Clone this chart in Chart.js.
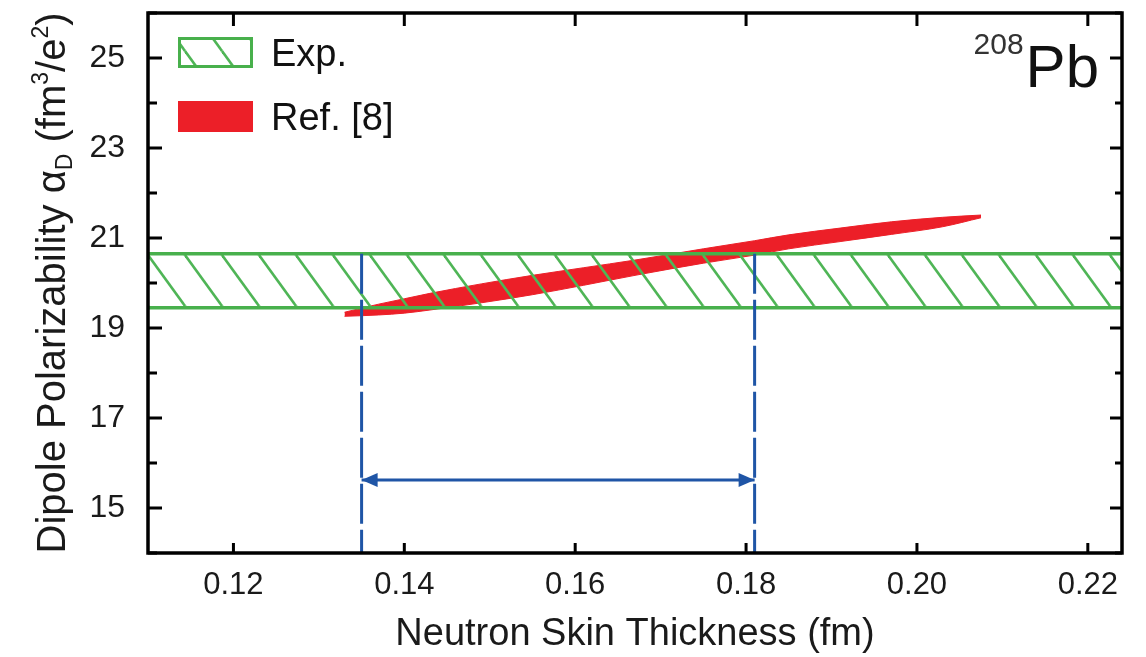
<!DOCTYPE html>
<html>
<head>
<meta charset="utf-8">
<script src="https://cdn.jsdelivr.net/npm/chart.js@4"></script>
<style>
  body { margin: 0; background: #fff; }
</style>
</head>
<body>
<canvas id="skinChart" width="1146" height="657"></canvas>
<script>
// axis ranges and ticks
var xRange = [0.11, 0.224];
var xTicks = [0.12, 0.14, 0.16, 0.18, 0.20, 0.22];
var yTicks = [14, 15, 16, 17, 18, 19, 20, 21, 22, 23, 24, 25, 26];

// measured dipole polarizability band (fm^3/e^2)
var expLow = 19.45;
var expHigh = 20.65;

// calculations from Ref. [8]: upper and lower edge of the band
var refSkin  = [0.133, 0.137, 0.140, 0.143, 0.149, 0.155, 0.161, 0.167, 0.175, 0.181, 0.185, 0.191, 0.197, 0.203, 0.2075];
var refUpper = [19.35, 19.53, 19.65, 19.77, 19.98, 20.17, 20.34, 20.51, 20.76, 20.94, 21.07, 21.22, 21.36, 21.46, 21.51];
var refLower = [19.26, 19.29, 19.33, 19.40, 19.56, 19.74, 19.95, 20.17, 20.44, 20.62, 20.76, 20.92, 21.08, 21.25, 21.45];

// neutron skin range extracted from the overlap
var skinRange = [0.135, 0.181];
var arrowAt = 15.62;

var green = '#48b04c';
var red = '#ec1f28';
var blue = '#1f55a6';
var font = "'Liberation Sans', Arial, sans-serif";

Chart.defaults.font.family = font;
Chart.defaults.color = '#1a1a1a';

// diagonal hatch used for the experimental band
function makeHatch() {
    var w = 37, h = 51;
    var c = document.createElement('canvas');
    c.width = w; c.height = h;
    var g = c.getContext('2d');
    g.strokeStyle = '#4fb556';
    g.lineWidth = 2.6;
    [-w, 0, w].forEach(function (dx) {
        [-h, 0, h].forEach(function (dy) {
            g.beginPath();
            g.moveTo(dx, dy);
            g.lineTo(dx + w, dy + h);
            g.stroke();
        });
    });
    return g.createPattern(c, 'repeat');
}
var hatch = makeHatch();

function pts(xs, ys) {
    return xs.map(function (x, i) { return { x: x, y: ys[i] }; });
}

function arrowHead(ctx, x, y, dir) {
    ctx.beginPath();
    ctx.moveTo(x, y);
    ctx.lineTo(x + dir * 16, y - 7);
    ctx.lineTo(x + dir * 16, y + 7);
    ctx.closePath();
    ctx.fill();
}

// no extra room for empty edge labels
function noEdgePadding(scale) {
    scale.paddingTop = 0;
    scale.paddingBottom = 0;
    scale.paddingLeft = 0;
    scale.paddingRight = 0;
}

// frame, inward ticks, legend, labels
var decorations = {
    id: 'decorations',
    afterDraw: function (chart) {
        var ctx = chart.ctx, a = chart.chartArea;
        var xs = chart.scales.x, ys = chart.scales.y;
        ctx.save();

        var arrow = chart.getDatasetMeta(0).data;
        ctx.fillStyle = blue;
        arrowHead(ctx, arrow[0].x, arrow[0].y, 1);
        arrowHead(ctx, arrow[1].x, arrow[1].y, -1);

        ctx.strokeStyle = '#000';
        ctx.lineWidth = 3.5;
        ctx.strokeRect(a.left, a.top, a.right - a.left, a.bottom - a.top);
        ctx.lineWidth = 3;
        ctx.beginPath();
        xs.ticks.forEach(function (t) {
            var px = xs.getPixelForValue(t.value);
            ctx.moveTo(px, a.bottom); ctx.lineTo(px, a.bottom - 10);
            ctx.moveTo(px, a.top); ctx.lineTo(px, a.top + 13);
        });
        ys.ticks.forEach(function (t) {
            var py = ys.getPixelForValue(t.value);
            var major = t.value % 2 === 1;
            ctx.moveTo(a.left, py); ctx.lineTo(a.left + (major ? 14 : 9), py);
            ctx.moveTo(a.right, py); ctx.lineTo(a.right - (major ? 12 : 7), py);
        });
        ctx.stroke();

        // legend
        var ds = chart.data.datasets;
        var bx = a.left + 30;
        var rows = [
            { top: a.top + 24, label: ds[3].label, fill: hatch, stroke: green },
            { top: a.top + 88, label: ds[5].label, fill: red, stroke: null }
        ];
        ctx.font = '38px ' + font;
        ctx.textBaseline = 'alphabetic';
        ctx.textAlign = 'left';
        rows.forEach(function (r) {
            ctx.fillStyle = r.fill;
            ctx.fillRect(bx, r.top, 75, 31);
            if (r.stroke) {
                ctx.strokeStyle = r.stroke;
                ctx.lineWidth = 3;
                ctx.strokeRect(bx + 1.5, r.top + 1.5, 72, 28);
            }
            ctx.fillStyle = '#111';
            ctx.fillText(r.label, bx + 93, r.top + 29);
        });

        // nucleus label
        ctx.textAlign = 'right';
        ctx.fillStyle = '#111';
        ctx.font = '60px ' + font;
        var pbX = a.right - 23, pbY = a.top + 74;
        ctx.fillText('Pb', pbX, pbY);
        var pbW = ctx.measureText('Pb').width;
        ctx.font = '30px ' + font;
        ctx.fillStyle = '#333';
        ctx.fillText('208', pbX - pbW - 2, pbY - 33);

        // y axis title with sub- and superscripts
        var parts = [
            { t: 'Dipole Polarizability \u03b1', s: 40, dy: 0 },
            { t: 'D', s: 23, dy: 7 },
            { t: ' (fm', s: 40, dy: 0 },
            { t: '3', s: 23, dy: -17 },
            { t: '/e', s: 40, dy: 0 },
            { t: '2', s: 23, dy: -17 },
            { t: ')', s: 40, dy: 0 }
        ];
        var total = 0;
        parts.forEach(function (p) {
            ctx.font = p.s + 'px ' + font;
            p.w = ctx.measureText(p.t).width;
            total += p.w;
        });
        ctx.translate(65, (a.top + a.bottom) / 2);
        ctx.rotate(-Math.PI / 2);
        ctx.textAlign = 'left';
        ctx.fillStyle = '#1a1a1a';
        var cx = -total / 2;
        parts.forEach(function (p) {
            ctx.font = p.s + 'px ' + font;
            ctx.fillText(p.t, cx, p.dy);
            cx += p.w;
        });
        ctx.restore();
    }
};

var ctx = document.getElementById('skinChart');

var skinChart = new Chart(ctx, {
    type: 'line',
    data: {
        datasets: [
            {
                label: 'range',
                data: [{ x: skinRange[0], y: arrowAt }, { x: skinRange[1], y: arrowAt }],
                borderColor: blue,
                borderWidth: 3,
                pointRadius: 0
            },
            {
                label: 'low',
                data: [{ x: skinRange[0], y: expHigh }, { x: skinRange[0], y: yTicks[0] }],
                borderColor: blue,
                borderWidth: 3,
                borderDash: [40, 6],
                pointRadius: 0
            },
            {
                label: 'high',
                data: [{ x: skinRange[1], y: expHigh }, { x: skinRange[1], y: yTicks[0] }],
                borderColor: blue,
                borderWidth: 3,
                borderDash: [40, 6],
                pointRadius: 0
            },
            {
                label: 'Exp.',
                data: [{ x: xRange[0], y: expHigh }, { x: xRange[1], y: expHigh }],
                borderColor: green,
                borderWidth: 3.5,
                pointRadius: 0
            },
            {
                label: 'Exp. low',
                data: [{ x: xRange[0], y: expLow }, { x: xRange[1], y: expLow }],
                borderColor: green,
                borderWidth: 3.5,
                pointRadius: 0,
                backgroundColor: hatch,
                fill: '-1'
            },
            {
                label: 'Ref. [8]',
                data: pts(refSkin, refUpper),
                borderColor: red,
                borderWidth: 1,
                pointRadius: 0,
                cubicInterpolationMode: 'monotone'
            },
            {
                label: 'Ref. [8] low',
                data: pts(refSkin, refLower),
                borderColor: red,
                borderWidth: 1,
                pointRadius: 0,
                cubicInterpolationMode: 'monotone',
                backgroundColor: red,
                fill: '-1'
            }
        ]
    },
    options: {
        responsive: false,
        animation: false,
        layout: { padding: { top: 13, right: 24, left: 0, bottom: 0 } },
        plugins: {
            legend: { display: false },
            tooltip: { enabled: false }
        },
        scales: {
            x: {
                type: 'linear',
                min: xRange[0],
                max: xRange[1],
                afterBuildTicks: function (scale) {
                    scale.ticks = xTicks.map(function (v) { return { value: v }; });
                },
                afterFit: function (scale) {
                    scale.height = 104;
                    noEdgePadding(scale);
                },
                grid: { display: false },
                border: { display: false },
                ticks: {
                    font: { size: 31 },
                    padding: 6,
                    callback: function (v) { return v.toFixed(2); }
                },
                title: {
                    display: true,
                    text: 'Neutron Skin Thickness (fm)',
                    font: { size: 38 },
                    padding: { top: 0, bottom: 0 }
                }
            },
            y: {
                min: yTicks[0],
                max: yTicks[yTicks.length - 1],
                afterBuildTicks: function (scale) {
                    scale.ticks = yTicks.map(function (v) { return { value: v }; });
                },
                afterFit: function (scale) {
                    scale.width = 148;
                    noEdgePadding(scale);
                },
                grid: { display: false },
                border: { display: false },
                ticks: {
                    font: { size: 32 },
                    padding: 15,
                    callback: function (v) { return v % 2 === 1 ? v : ''; }
                }
            }
        }
    },
    plugins: [decorations]
});
</script>
</body>
</html>
